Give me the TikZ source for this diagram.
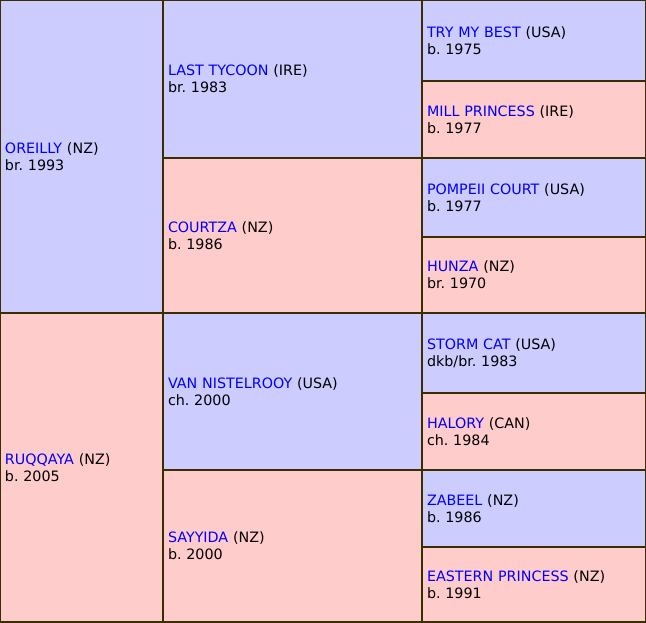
\documentclass[tikz,border=0pt]{standalone}
\usepackage{xcolor}
\usepackage{fontspec}
\setmainfont{DejaVu Sans}
\frenchspacing
\usetikzlibrary{positioning}
\definecolor{sirecell}{HTML}{CCCCFF}
\definecolor{damcell}{HTML}{FFCCCC}
\definecolor{gridline}{HTML}{3A2E00}
\definecolor{namelink}{HTML}{0000FF}
\newcommand{\horse}[3]{\textcolor{namelink}{#1} (#2)\\#3}
\tikzset{
  cell/.style={draw=gridline, line width=2pt, anchor=north west, outer sep=0pt,
    inner xsep=5pt, inner ysep=0pt, align=left, font=\fontsize{14.3}{17}\selectfont},
  sire/.style={cell, fill=sirecell},
  dam/.style={cell, fill=damcell},
  gen1/.style={text width=153pt},
  gen2/.style={text width=249pt},
  gen3/.style={text width=214pt},
}

\begin{document}
\begin{tikzpicture}[x=1pt,y=-1pt]
    \useasboundingbox (0,0) rectangle (646,622);

    % first generation
    \node[sire,gen1,minimum height=313pt] (oreilly) at (0,0) {\horse{OREILLY}{NZ}{br. 1993}};
    \node[dam,gen1,minimum height=309pt] (ruqqaya) at (0,313) {\horse{RUQQAYA}{NZ}{b. 2005}};

    % second generation
    \node[sire,gen2,minimum height=158pt] (lasttycoon) at (163,0) {\horse{LAST TYCOON}{IRE}{br. 1983}};
    \node[dam,gen2,minimum height=155pt] (courtza) at (163,158) {\horse{COURTZA}{NZ}{b. 1986}};
    \node[sire,gen2,minimum height=157pt] (vannistelrooy) at (163,313) {\horse{VAN NISTELROOY}{USA}{ch. 2000}};
    \node[dam,gen2,minimum height=152pt] (sayyida) at (163,470) {\horse{SAYYIDA}{NZ}{b. 2000}};

    % third generation
    \node[sire,gen3,minimum height=81pt] (trymybest) at (422,0) {\horse{TRY MY BEST}{USA}{b. 1975}};
    \node[dam,gen3,minimum height=77pt] (millprincess) at (422,81) {\horse{MILL PRINCESS}{IRE}{b. 1977}};
    \node[sire,gen3,minimum height=79pt] (pompeiicourt) at (422,158) {\horse{POMPEII COURT}{USA}{b. 1977}};
    \node[dam,gen3,minimum height=76pt] (hunza) at (422,237) {\horse{HUNZA}{NZ}{br. 1970}};
    \node[sire,gen3,minimum height=80pt] (stormcat) at (422,313) {\horse{STORM CAT}{USA}{dkb/br. 1983}};
    \node[dam,gen3,minimum height=77pt] (halory) at (422,393) {\horse{HALORY}{CAN}{ch. 1984}};
    \node[sire,gen3,minimum height=77pt] (zabeel) at (422,470) {\horse{ZABEEL}{NZ}{b. 1986}};
    \node[dam,gen3,minimum height=75pt] (easternprincess) at (422,547) {\horse{EASTERN PRINCESS}{NZ}{b. 1991}};
\end{tikzpicture}
\end{document}
